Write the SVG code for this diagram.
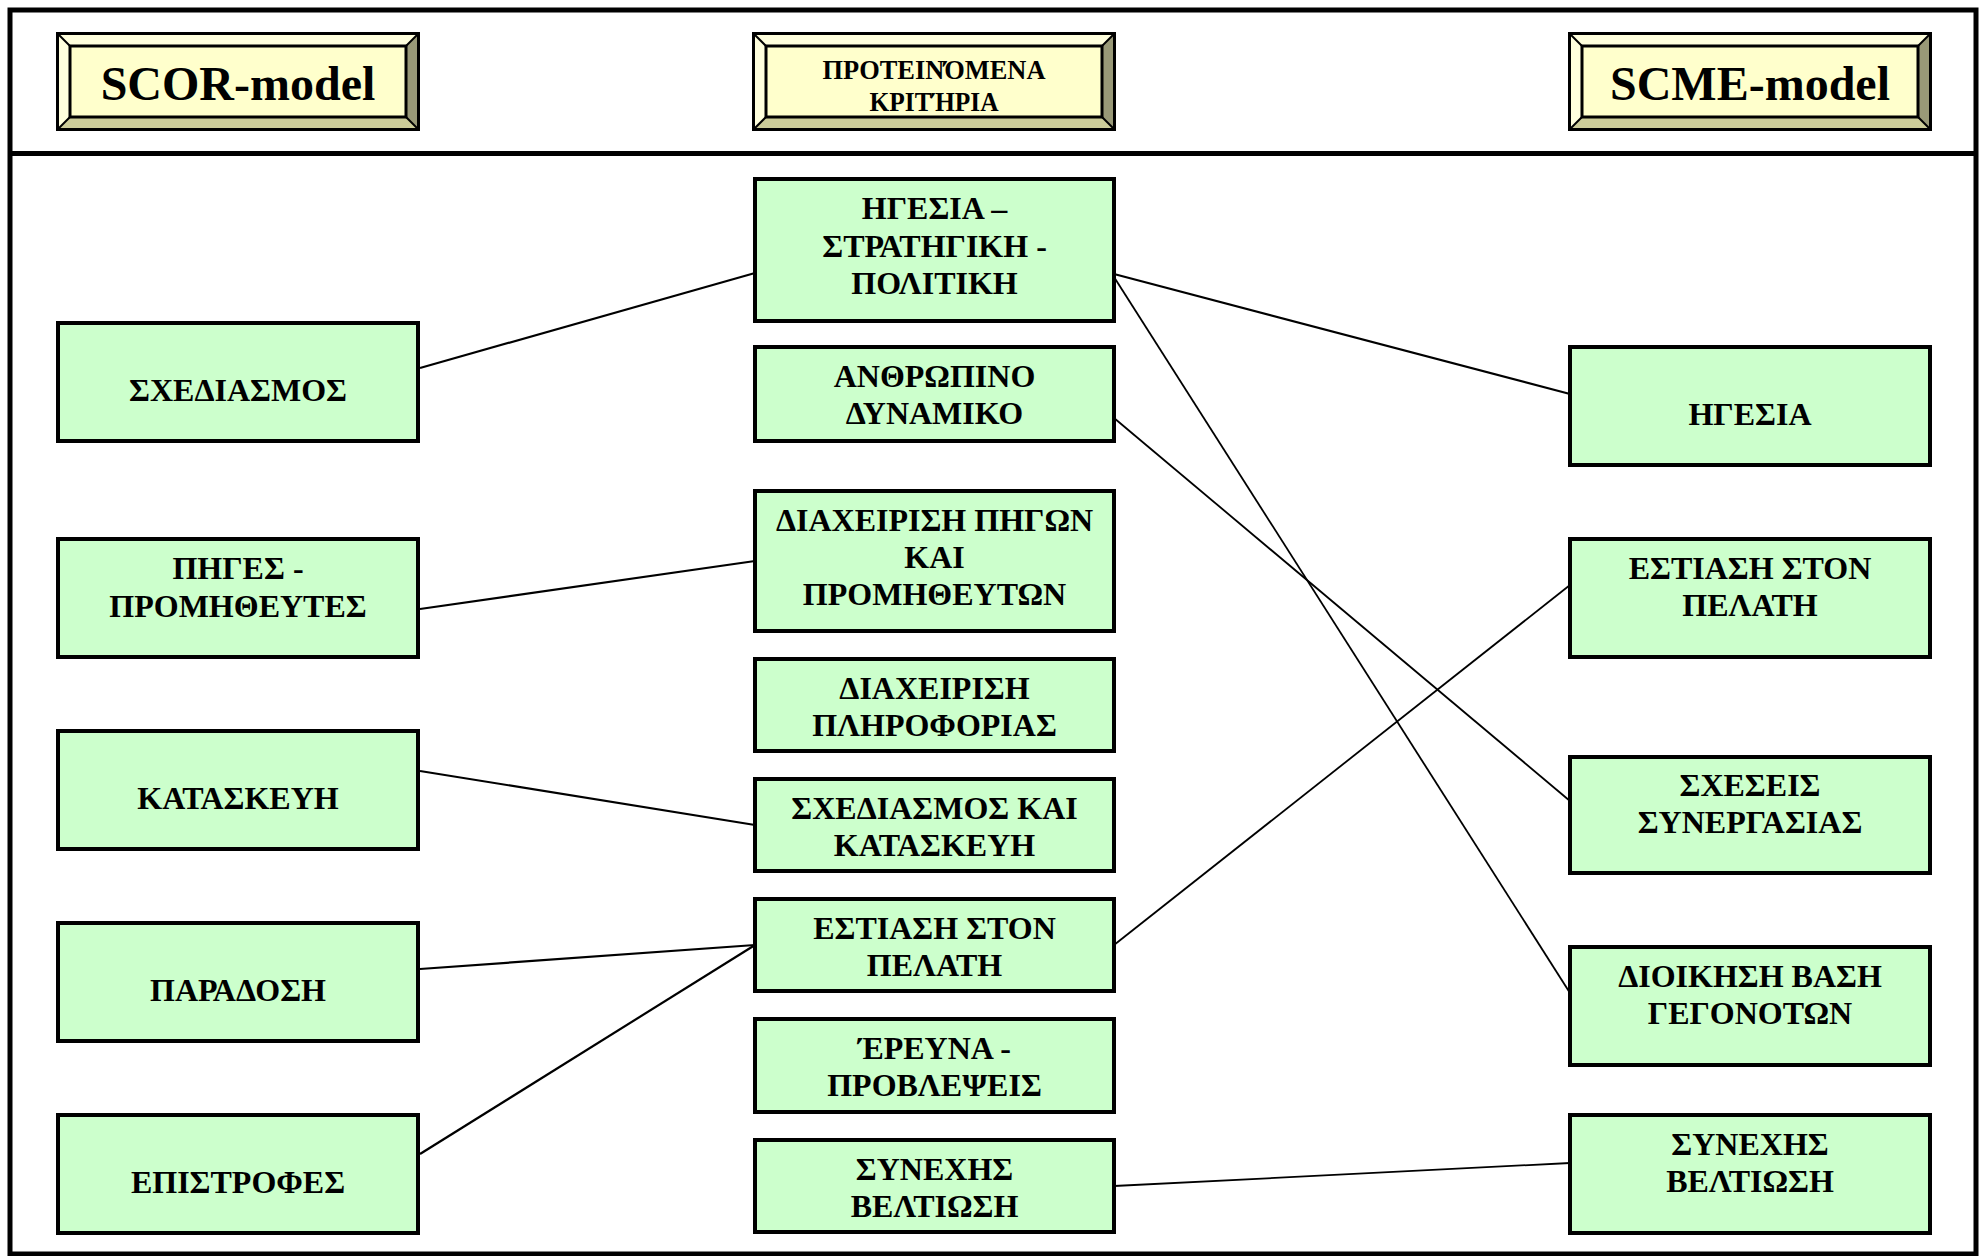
<svg xmlns="http://www.w3.org/2000/svg" xmlns:xlink="http://www.w3.org/1999/xlink" width="1982" height="1256" viewBox="0 0 1982 1256">
  <style>
    .frame { fill: none; stroke: #000; stroke-width: 5; }
    .box { fill: #CCFFCC; stroke: #000; stroke-width: 4; }
    .lbl { font-family: "Liberation Serif", "Times New Roman", serif; font-weight: bold; font-size: 32px; text-anchor: middle; fill: #000; }
    .hdr { font-family: "Liberation Serif", "Times New Roman", serif; font-weight: bold; text-anchor: middle; fill: #000; }
    .conn line { stroke: #000; stroke-width: 2.2; fill: none; }
    .conn line.thin { stroke-width: 1.8; }
    .bv-face { fill: #FFFFCC; }
    .bv-light { fill: #FFFFDD; }
    .bv-dark { fill: #999977; }
    .bv-mid { fill: #CCCC99; }
    .bv-edge { fill: none; stroke: #000; stroke-width: 3; }
    .bv-diag { stroke: #000; stroke-width: 2; }
  </style>
  <defs>
    <!-- raised bevelled plate used behind the column titles -->
    <g id="bevel">
      <rect class="bv-face" x="12.5" y="12.5" width="336" height="71"/>
      <polygon class="bv-light" points="0,0 361,0 348.5,12.5 12.5,12.5"/>
      <polygon class="bv-light" points="0,0 12.5,12.5 12.5,83.5 0,96"/>
      <polygon class="bv-dark" points="361,0 361,96 348.5,83.5 348.5,12.5"/>
      <polygon class="bv-mid" points="0,96 12.5,83.5 348.5,83.5 361,96"/>
      <line class="bv-diag" x1="0" y1="0" x2="12.5" y2="12.5"/>
      <line class="bv-diag" x1="361" y1="0" x2="348.5" y2="12.5"/>
      <line class="bv-diag" x1="0" y1="96" x2="12.5" y2="83.5"/>
      <line class="bv-diag" x1="361" y1="96" x2="348.5" y2="83.5"/>
      <rect class="bv-edge" x="12.5" y="12.5" width="336" height="71"/>
      <rect class="bv-edge" x="0" y="0" width="361" height="96"/>
    </g>
  </defs>

  <rect x="0" y="0" width="1982" height="1256" fill="#FFFFFF"/>

  <!-- outer frame and title band -->
  <g id="frame">
    <rect class="frame" x="10" y="10" width="1966" height="1244"/>
    <line class="frame" x1="10" y1="153.5" x2="1976" y2="153.5"/>
  </g>

  <!-- column titles -->
  <g id="title-scor">
    <use xlink:href="#bevel" href="#bevel" x="57.5" y="33.5"/>
    <text class="hdr" x="238" y="100" font-size="48">SCOR-model</text>
  </g>
  <g id="title-criteria">
    <use xlink:href="#bevel" href="#bevel" x="753.5" y="33.5"/>
    <text class="hdr" x="934" y="79" font-size="27" textLength="223" lengthAdjust="spacingAndGlyphs">ΠΡΟΤΕΙΝΌΜΕΝΑ</text>
    <text class="hdr" x="934" y="111" font-size="27" textLength="129" lengthAdjust="spacingAndGlyphs">ΚΡΙΤΉΡΙΑ</text>
  </g>
  <g id="title-scme">
    <use xlink:href="#bevel" href="#bevel" x="1569.5" y="33.5"/>
    <text class="hdr" x="1750" y="100" font-size="48">SCME-model</text>
  </g>

  <!-- connectors -->
  <g id="connectors" class="conn">
    <line x1="420" y1="368" x2="755" y2="273"/>
    <line x1="420" y1="609" x2="755" y2="561"/>
    <line x1="420" y1="771" x2="755" y2="825"/>
    <line x1="420" y1="969" x2="755" y2="945"/>
    <line x1="420" y1="1154" x2="755" y2="945"/>
    <line x1="1114" y1="274" x2="1570" y2="394"/>
    <line class="thin" x1="1114" y1="277" x2="1570" y2="993"/>
    <line class="thin" x1="1114" y1="418" x2="1570" y2="801"/>
    <line class="thin" x1="1114" y1="945" x2="1570" y2="585"/>
    <line class="thin" x1="1114" y1="1186" x2="1570" y2="1163"/>
  </g>

  <!-- SCOR column -->
  <g id="scor-plan">
    <rect class="box" x="58" y="323" width="360" height="118"/>
    <text class="lbl" x="238" y="401">ΣΧΕΔΙΑΣΜΟΣ</text>
  </g>
  <g id="scor-source">
    <rect class="box" x="58" y="539" width="360" height="118"/>
    <text class="lbl" x="238" y="579">ΠΗΓΕΣ -</text>
    <text class="lbl" x="238" y="617">ΠΡΟΜΗΘΕΥΤΕΣ</text>
  </g>
  <g id="scor-make">
    <rect class="box" x="58" y="731" width="360" height="118"/>
    <text class="lbl" x="238" y="809">ΚΑΤΑΣΚΕΥΗ</text>
  </g>
  <g id="scor-deliver">
    <rect class="box" x="58" y="923" width="360" height="118"/>
    <text class="lbl" x="238" y="1001">ΠΑΡΑΔΟΣΗ</text>
  </g>
  <g id="scor-return">
    <rect class="box" x="58" y="1115" width="360" height="118"/>
    <text class="lbl" x="238" y="1193">ΕΠΙΣΤΡΟΦΕΣ</text>
  </g>

  <!-- proposed criteria column -->
  <g id="crit-leadership">
    <rect class="box" x="755" y="179" width="359" height="142"/>
    <text class="lbl" x="934.5" y="219">ΗΓΕΣΙΑ –</text>
    <text class="lbl" x="934.5" y="257">ΣΤΡΑΤΗΓΙΚΗ -</text>
    <text class="lbl" x="934.5" y="294">ΠΟΛΙΤΙΚΗ</text>
  </g>
  <g id="crit-people">
    <rect class="box" x="755" y="347" width="359" height="94"/>
    <text class="lbl" x="934.5" y="387">ΑΝΘΡΩΠΙΝΟ</text>
    <text class="lbl" x="934.5" y="424">ΔΥΝΑΜΙΚΟ</text>
  </g>
  <g id="crit-resources">
    <rect class="box" x="755" y="491" width="359" height="140"/>
    <text class="lbl" x="934.5" y="531">ΔΙΑΧΕΙΡΙΣΗ ΠΗΓΩΝ</text>
    <text class="lbl" x="934.5" y="568">ΚΑΙ</text>
    <text class="lbl" x="934.5" y="605">ΠΡΟΜΗΘΕΥΤΩΝ</text>
  </g>
  <g id="crit-information">
    <rect class="box" x="755" y="659" width="359" height="92"/>
    <text class="lbl" x="934.5" y="699">ΔΙΑΧΕΙΡΙΣΗ</text>
    <text class="lbl" x="934.5" y="736">ΠΛΗΡΟΦΟΡΙΑΣ</text>
  </g>
  <g id="crit-design">
    <rect class="box" x="755" y="779" width="359" height="92"/>
    <text class="lbl" x="934.5" y="819">ΣΧΕΔΙΑΣΜΟΣ ΚΑΙ</text>
    <text class="lbl" x="934.5" y="856">ΚΑΤΑΣΚΕΥΗ</text>
  </g>
  <g id="crit-customer">
    <rect class="box" x="755" y="899" width="359" height="92"/>
    <text class="lbl" x="934.5" y="939">ΕΣΤΙΑΣΗ ΣΤΟΝ</text>
    <text class="lbl" x="934.5" y="976">ΠΕΛΑΤΗ</text>
  </g>
  <g id="crit-research">
    <rect class="box" x="755" y="1019" width="359" height="93"/>
    <text class="lbl" x="934.5" y="1059">ΈΡΕΥΝΑ -</text>
    <text class="lbl" x="934.5" y="1096">ΠΡΟΒΛΕΨΕΙΣ</text>
  </g>
  <g id="crit-improvement">
    <rect class="box" x="755" y="1140" width="359" height="92"/>
    <text class="lbl" x="934.5" y="1180">ΣΥΝΕΧΗΣ</text>
    <text class="lbl" x="934.5" y="1217">ΒΕΛΤΙΩΣΗ</text>
  </g>

  <!-- SCME column -->
  <g id="scme-leadership">
    <rect class="box" x="1570" y="347" width="360" height="118"/>
    <text class="lbl" x="1750" y="425">ΗΓΕΣΙΑ</text>
  </g>
  <g id="scme-customer">
    <rect class="box" x="1570" y="539" width="360" height="118"/>
    <text class="lbl" x="1750" y="579">ΕΣΤΙΑΣΗ ΣΤΟΝ</text>
    <text class="lbl" x="1750" y="616">ΠΕΛΑΤΗ</text>
  </g>
  <g id="scme-partnership">
    <rect class="box" x="1570" y="757" width="360" height="116"/>
    <text class="lbl" x="1750" y="796">ΣΧΕΣΕΙΣ</text>
    <text class="lbl" x="1750" y="833">ΣΥΝΕΡΓΑΣΙΑΣ</text>
  </g>
  <g id="scme-facts">
    <rect class="box" x="1570" y="947" width="360" height="118"/>
    <text class="lbl" x="1750" y="987">ΔΙΟΙΚΗΣΗ ΒΑΣΗ</text>
    <text class="lbl" x="1750" y="1024">ΓΕΓΟΝΟΤΩΝ</text>
  </g>
  <g id="scme-improvement">
    <rect class="box" x="1570" y="1115" width="360" height="118"/>
    <text class="lbl" x="1750" y="1155">ΣΥΝΕΧΗΣ</text>
    <text class="lbl" x="1750" y="1192">ΒΕΛΤΙΩΣΗ</text>
  </g>
</svg>
